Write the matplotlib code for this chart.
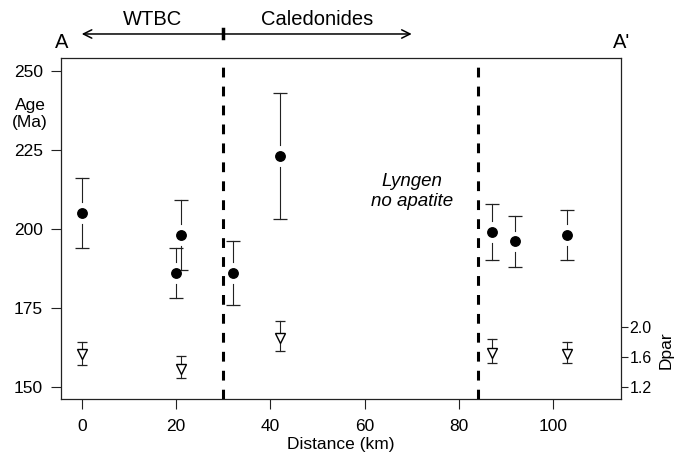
import numpy as np
import matplotlib
matplotlib.use('Agg')
import matplotlib.pyplot as plt

plt.rcParams['font.family'] = ['Liberation Sans', 'DejaVu Sans']

# age data (Ma) along the profile
dist_age = [0, 20, 21, 32, 42, 87, 92, 103]
age = [205, 186, 198, 186, 223, 199, 196, 198]
age_hi = [216, 194, 209, 196, 243, 208, 204, 206]
age_lo = [194, 178, 187, 176, 203, 190, 188, 190]

# Dpar data
dist_dpar = [0, 21, 42, 87, 103]
dpar = [1.64, 1.44, 1.85, 1.65, 1.64]
dpar_hi = [1.80, 1.61, 2.07, 1.84, 1.80]
dpar_lo = [1.49, 1.31, 1.67, 1.51, 1.51]

boundaries = [30, 84]
x_ticks = [0, 20, 40, 60, 80, 100]
age_ticks = [150, 175, 200, 225, 250]
dpar_ticks = [1.2, 1.6, 2.0]

fig = plt.figure(figsize=(6.76, 4.59), dpi=100)
ax = fig.add_axes([61/676, 1-399.3/459, 560/676, 341/459])

col = '#222222'
gap = 3.4
for x, y, hi, lo in zip(dist_age, age, age_hi, age_lo):
    ax.plot([x, x], [y + gap, hi], color=col, lw=0.8)
    ax.plot([x, x], [lo, y - gap], color=col, lw=0.8)
    ax.plot([x, x], [hi, lo], ls='none', marker='_', ms=9.5, mew=0.9, color=col)
ax.plot(dist_age, age, 'o', color='black', ms=6.8, zorder=5)

for b in boundaries:
    ax.axvline(b, color='black', lw=2.2, dashes=(3.2, 3.0), zorder=3)

ax.set_xlim(-4.4, 114.4)
ax.set_ylim(146, 254)
ax.set_xticks(x_ticks)
ax.set_yticks(age_ticks)
ax.tick_params(axis='both', labelsize=12.5, length=7, width=0.8, color=col)
ax.tick_params(axis='x', pad=7)
ax.tick_params(axis='y', pad=6)
for s in ax.spines.values():
    s.set_linewidth(0.9)
    s.set_color(col)

# Dpar on a second y axis
ax2 = ax.twinx()
ax2.set_ylim(1.032, 5.568)
ax2.set_yticks(dpar_ticks)
ax2.set_yticklabels(['%.1f' % t for t in dpar_ticks])
ax2.tick_params(axis='y', labelsize=11.5, length=5, width=0.8, pad=1, color=col)
dgap = 0.065
for x, y, hi, lo in zip(dist_dpar, dpar, dpar_hi, dpar_lo):
    ax2.plot([x, x], [y + dgap, hi], color=col, lw=0.8)
    ax2.plot([x, x], [lo, y - dgap], color=col, lw=0.8)
    ax2.plot([x, x], [hi, lo], ls='none', marker='_', ms=6.5, mew=0.9, color=col)
ax2.plot(dist_dpar, dpar, 'v', mfc='white', mec='black', mew=1.0, ms=7)
for s in ax2.spines.values():
    s.set_visible(False)
fig.text(666/676, 1-350/459, 'Dpar', rotation=90, ha='center', va='center', fontsize=12.5)

# labels
fig.text(30/676, 1-114/459, 'Age\n(Ma)', ha='center', va='center', fontsize=12.5, linespacing=1.2)
fig.text(0.5 * (61 + 621) / 676, 1-444/459, 'Distance (km)', ha='center', va='center', fontsize=12.5)

# header with arrows
ax.annotate('', xy=(0, 261.7), xytext=(70, 261.7), annotation_clip=False,
            arrowprops=dict(arrowstyle='<->,head_length=0.6,head_width=0.3', lw=1.1,
                            color='black', shrinkA=0, shrinkB=0))
ax.plot([30, 30], [260.4, 263.2], color='black', lw=2.5, clip_on=False)
ax.text(15, 266.4, 'WTBC', ha='center', va='center', fontsize=14.5, clip_on=False)
ax.text(50, 266.4, 'Caledonides', ha='center', va='center', fontsize=14.5, clip_on=False)
ax.text(-4.2, 259.1, 'A', ha='center', va='center', fontsize=14.5, clip_on=False)
ax.text(114.6, 259.1, "A'", ha='center', va='center', fontsize=14.5, clip_on=False)

ax.text(70, 211.7, 'Lyngen\nno apatite', ha='center', va='center', fontsize=13.5,
        style='italic', linespacing=1.25)

fig.savefig('out.png', dpi=100)
